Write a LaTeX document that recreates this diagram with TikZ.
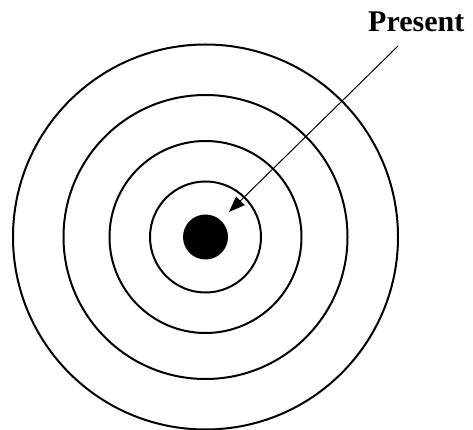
\documentclass[tikz,border=0pt]{standalone}
\usepackage{fontspec}
\setmainfont{Liberation Serif}
\usetikzlibrary{arrows.meta}

\begin{document}
\begin{tikzpicture}[x=1pt, y=1pt, >={Triangle[length=16pt,width=12pt]},
  ring/.style={line width=2pt},
  pointer/.style={line width=1pt,->}]
\useasboundingbox (-205.5,-193) rectangle (267.5,237);
\coordinate (ctr) at (0,0);
\foreach \r in {192.5,142,96,55.5} \draw[ring] (ctr) circle (\r);
\fill (ctr) circle (22.5);
\node[anchor=base west, inner sep=0pt, font=\fontsize{30}{36}\selectfont\bfseries]
  (present) at (162.5,205) {Present};
\coordinate (tail) at (192.5,191);
\coordinate (tip)  at (23.5,25);
\draw[pointer] (tail) -- (tip);
\end{tikzpicture}
\end{document}
